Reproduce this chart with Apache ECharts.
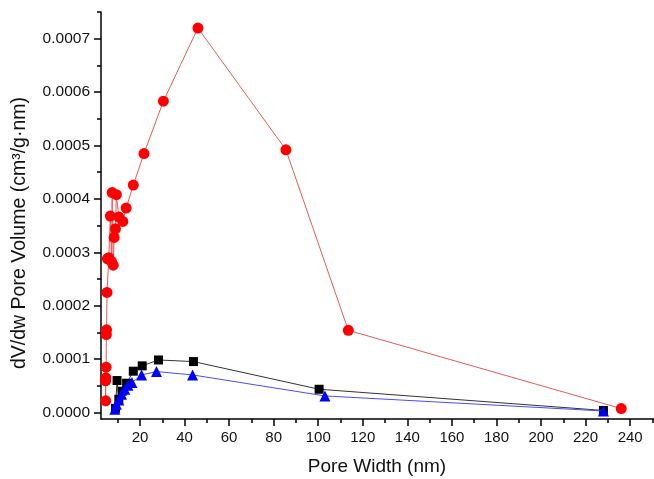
<!DOCTYPE html>
<html>
<head>
<meta charset="utf-8">
<script src="https://cdn.jsdelivr.net/npm/echarts@6/dist/echarts.min.js"></script>
<style>
  html, body { margin: 0; padding: 0; background: #fff; }
  #chart { width: 654px; height: 479px; }
</style>
</head>
<body>
<div id="chart"></div>
<script>
// Pore size distribution (dV/dw) for three samples
const redX = [236, 113.5, 85.5, 46, 30.5, 21.8, 17, 13.8, 12.3, 10.5, 9.4, 9.0, 8.4, 8.0, 7.5, 7.2, 6.7, 6.0, 5.4, 5.2, 5.0, 4.9, 4.8, 4.7, 4.6, 4.6, 4.5];
const redY = [0.0000075, 0.000154, 0.000492, 0.00072, 0.000583, 0.000485, 0.000426, 0.000383, 0.000358, 0.000366, 0.000408, 0.000344, 0.000328, 0.000276, 0.000412, 0.000283, 0.000368, 0.00029, 0.000288, 0.000225, 0.000155, 0.000146, 0.000085, 0.000065, 0.00006, 0.000022, 0.00006];

const blackX = [228, 100.4, 44, 28.3, 21, 17, 14, 12, 10.5, 9.7, 9.0];
const blackY = [0.000004, 0.0000437, 0.0000955, 0.0000985, 0.0000875, 0.0000775, 0.000055, 0.00004, 0.000025, 0.00006, 0.000008];

const blueX = [228, 103, 43.6, 27.4, 20.7, 16.4, 14.6, 13.2, 11.7, 10.5, 9.4, 8.7];
const blueY = [0.000003, 0.0000312, 0.0000705, 0.0000768, 0.0000705, 0.0000562, 0.0000512, 0.0000437, 0.0000343, 0.0000237, 0.0000156, 0.0000062];

// Axis ticks
const xLabels = [20, 40, 60, 80, 100, 120, 140, 160, 180, 200, 220, 240];
const xMinor = [10, 30, 50, 70, 90, 110, 130, 150, 170, 190, 210, 230, 250];
const yLabels = [0, 0.0001, 0.0002, 0.0003, 0.0004, 0.0005, 0.0006, 0.0007];
const yMinor = [0.00005, 0.00015, 0.00025, 0.00035, 0.00045, 0.00055, 0.00065, 0.00075];

const pairs = (xs, ys) => xs.map((x, i) => [x, ys[i]]);

const FONT = 'Liberation Sans, Arial, sans-serif';
const X_MIN = 2.5, X_MAX = 250.7, Y_MIN = -0.000012, Y_MAX = 0.00075;

const chart = echarts.init(document.getElementById('chart'), null, { renderer: 'canvas' });

const baseX = {
  type: 'value', min: X_MIN, max: X_MAX, position: 'bottom',
  splitLine: { show: false }
};
const baseY = {
  type: 'value', min: Y_MIN, max: Y_MAX, position: 'left',
  splitLine: { show: false }
};

chart.setOption({
  animation: false,
  backgroundColor: '#ffffff',
  grid: { left: 101, right: 0, top: 12, bottom: 60, containLabel: false },
  xAxis: [
    Object.assign({}, baseX, {
      axisLine: { show: true, onZero: false, lineStyle: { color: '#000', width: 1.5 } },
      axisTick: { show: true, inside: false, length: 7, customValues: xLabels, lineStyle: { color: '#000', width: 1.5 } },
      axisLabel: { show: true, customValues: xLabels, margin: 11, color: '#111', fontFamily: FONT, fontSize: 15 }
    }),
    Object.assign({}, baseX, {
      axisLine: { show: false, onZero: false },
      axisTick: { show: true, inside: false, length: 4, customValues: xMinor, lineStyle: { color: '#000', width: 1.5 } },
      axisLabel: { show: false }
    })
  ],
  yAxis: [
    Object.assign({}, baseY, {
      axisLine: { show: true, onZero: false, lineStyle: { color: '#000', width: 1.5 } },
      axisTick: { show: true, inside: false, length: 7, customValues: yLabels, lineStyle: { color: '#000', width: 1.5 } },
      axisLabel: {
        show: true, customValues: yLabels, margin: 11, color: '#111', fontFamily: FONT, fontSize: 15.5,
        formatter: v => Number(v).toFixed(4)
      }
    }),
    Object.assign({}, baseY, {
      axisLine: { show: false, onZero: false },
      axisTick: { show: true, inside: false, length: 4, customValues: yMinor, lineStyle: { color: '#000', width: 1.5 } },
      axisLabel: { show: false }
    })
  ],
  graphic: [
    {
      type: 'text', x: 377, y: 467,
      style: {
        text: 'Pore Width (nm)', fontFamily: FONT, fontSize: 19, fill: '#111',
        align: 'center', verticalAlign: 'middle'
      }
    },
    {
      type: 'text', x: 20, y: 233, rotation: Math.PI / 2,
      style: {
        text: 'dV/dw Pore Volume (cm³/g·nm)', fontFamily: FONT, fontSize: 19.5, fill: '#111',
        align: 'center', verticalAlign: 'middle'
      }
    }
  ],
  series: [
    {
      type: 'line', xAxisIndex: 0, yAxisIndex: 0,
      data: pairs(redX, redY),
      symbol: 'circle', symbolSize: 11,
      itemStyle: { color: '#ff0000' },
      lineStyle: { color: '#e85a5a', width: 1 },
      z: 2
    },
    {
      type: 'line', xAxisIndex: 0, yAxisIndex: 0,
      data: pairs(blackX, blackY),
      symbol: 'rect', symbolSize: 9,
      itemStyle: { color: '#000000' },
      lineStyle: { color: '#333333', width: 1 },
      z: 3
    },
    {
      type: 'line', xAxisIndex: 0, yAxisIndex: 0,
      data: pairs(blueX, blueY),
      symbol: 'triangle', symbolSize: 11,
      itemStyle: { color: '#0000ff' },
      lineStyle: { color: '#4a4aff', width: 1 },
      z: 4
    }
  ]
});
</script>
</body>
</html>
